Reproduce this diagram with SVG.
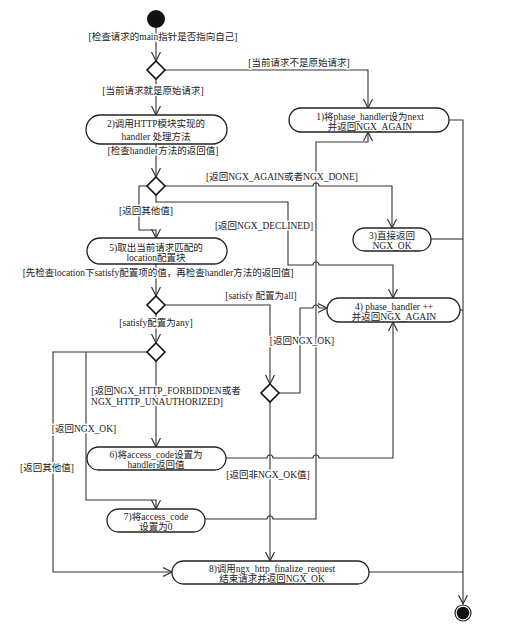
<svg xmlns="http://www.w3.org/2000/svg" width="515" height="626" viewBox="0 0 515 626">
<style>
text{font-family:"Liberation Serif","Noto Sans CJK SC",serif;font-size:9.5px;fill:#222;text-anchor:middle}
.lbl{stroke:#fff;stroke-width:3;paint-order:stroke;stroke-linejoin:round}
.node rect{fill:#fff;stroke:#222;stroke-width:1.3}
.dia{fill:#fff;stroke:#111;stroke-width:1.6}
#edges path{fill:none;stroke:#333;stroke-width:1.1}
.arr path{marker-end:url(#arrow)}
</style>
<defs>
<marker id="arrow" markerUnits="userSpaceOnUse" markerWidth="12" markerHeight="12" refX="9" refY="5" orient="auto">
<path d="M0,0.5 L9,5 L0,9.5" fill="none" stroke="#333" stroke-width="1.2"/>
</marker>
</defs>
<rect width="515" height="626" fill="#fff"/>

<g id="edges">
<g class="arr">
<path d="M156,28 V61"/>
<path d="M165,70 H368 V108"/>
<path d="M156,79 V115"/>
<path d="M156,144 V177"/>
<path d="M165,186 H313 a3,3 0 0 1 6,0 H392 V228"/>
<path d="M147,186 H139 V230 H156 V238"/>
<path d="M156,195 V202 H288 V265 H313 a3,3 0 0 1 6,0 H393 V298"/>
<path d="M156,264 V296"/>
<path d="M165,305 H270 V384"/>
<path d="M156,314 V343"/>
<path d="M156,361 V447"/>
<path d="M147,352 H53 V572 H172"/>
<path d="M86,352 V500 H156 V509"/>
<path d="M279,393 H300 V308 H313 a3,3 0 0 1 6,0 H327"/>
<path d="M270,402 V561"/>
<path d="M226,458 H267 a3,3 0 0 1 6,0 H313 a3,3 0 0 1 6,0 H393 V322"/>
<path d="M205,519 H267 a3,3 0 0 1 6,0 H316 V142 H368 V132"/>
<path d="M449,120 H463 V604"/>
</g>
<path d="M431,239 H463"/>
<path d="M460,310 H463"/>
<path d="M369,572 H463"/>
</g>

<g id="labels">
<text class="lbl" x="163" y="39.5">[检查请求的main指针是否指向自己]</text>
<text class="lbl" x="299" y="65.5">[当前请求不是原始请求]</text>
<text class="lbl" x="153" y="93.5">[当前请求就是原始请求]</text>
<text class="lbl" x="163" y="153.5">[检查handler方法的返回值]</text>
<text class="lbl" x="282" y="179.5">[返回NGX_AGAIN或者NGX_DONE]</text>
<text class="lbl" x="146" y="213.5">[返回其他值]</text>
<text class="lbl" x="264" y="228.5">[返回NGX_DECLINED]</text>
<text class="lbl" x="158" y="275.5">[先检查location下satisfy配置项的值，再检查handler方法的返回值]</text>
<text class="lbl" x="261" y="298.5">[satisfy 配置为all]</text>
<text class="lbl" x="156" y="325.5">[satisfy配置为any]</text>
<text class="lbl" x="302" y="343.5">[返回NGX_OK]</text>
<text class="lbl" x="166" y="393.5">[返回NGX_HTTP_FORBIDDEN或者</text>
<text class="lbl" x="157" y="404.5">NGX_HTTP_UNAUTHORIZED]</text>
<text class="lbl" x="84" y="431.5">[返回NGX_OK]</text>
<text class="lbl" x="47" y="470.5">[返回其他值]</text>
<text class="lbl" x="268" y="477.5">[返回非NGX_OK值]</text>
</g>

<g id="start"><circle cx="156" cy="19" r="9" fill="#111"/></g>
<g id="end"><circle cx="463" cy="613" r="8" fill="#fff" stroke="#222" stroke-width="1.2"/><circle cx="463" cy="613" r="6.3" fill="#111"/></g>

<g id="d1"><polygon class="dia" points="156,61 165,70 156,79 147,70"/></g>
<g id="d2"><polygon class="dia" points="156,177 165,186 156,195 147,186"/></g>
<g id="d3"><polygon class="dia" points="156,296 165,305 156,314 147,305"/></g>
<g id="d4"><polygon class="dia" points="156,343 165,352 156,361 147,352"/></g>
<g id="d5"><polygon class="dia" points="270,384 279,393 270,402 261,393"/></g>

<g id="n1" class="node"><rect x="289" y="108" width="160" height="24" rx="12"/><text x="370" y="119.5">1)将phase_handler设为next</text><text x="370" y="129.5">并返回NGX_AGAIN</text></g>
<g id="n2" class="node"><rect x="86" y="115" width="141" height="29" rx="14.5"/><text x="156" y="127">2)调用HTTP模块实现的</text><text x="156" y="139.5">handler 处理方法</text></g>
<g id="n3" class="node"><rect x="353" y="228" width="78" height="23" rx="11.5"/><text x="392" y="238.5">3)直接返回</text><text x="392" y="248.5">NGX_OK</text></g>
<g id="n4" class="node"><rect x="327" y="298" width="133" height="24" rx="12"/><text x="394" y="309.5">4) phase_handler ++</text><text x="394" y="320">并返回NGX_AGAIN</text></g>
<g id="n5" class="node"><rect x="87" y="238" width="140" height="26" rx="13"/><text x="156" y="250.5">5)取出当前请求匹配的</text><text x="156" y="261">location配置块</text></g>
<g id="n6" class="node"><rect x="87" y="447" width="139" height="23" rx="11.5"/><text x="156" y="458">6)将access_code设置为</text><text x="156" y="468">handler返回值</text></g>
<g id="n7" class="node"><rect x="107" y="509" width="98" height="23" rx="11.5"/><text x="156" y="519.5">7)将access_code</text><text x="156" y="530">设置为0</text></g>
<g id="n8" class="node"><rect x="172" y="561" width="197" height="23" rx="11.5"/><text x="272" y="571.5">8)调用ngx_http_finalize_request</text><text x="272" y="582">结束请求并返回NGX_OK</text></g>
</svg>
